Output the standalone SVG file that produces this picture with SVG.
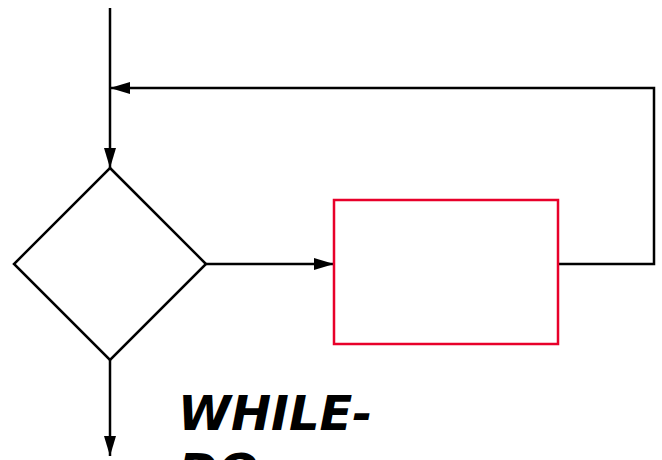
<svg xmlns="http://www.w3.org/2000/svg" width="662" height="460" viewBox="0 0 662 460">
  <style>
    .ln { fill: none; stroke: #000; stroke-width: 2.5; }
    .shape { fill: none; stroke: #000; stroke-width: 2.5; }
    .proc { fill: none; stroke: #e8002a; stroke-width: 2.5; }
    .title { font-family: "DejaVu Sans", sans-serif; font-weight: bold; font-style: italic; font-size: 48px; fill: #000; }
  </style>
  <defs>
    <marker id="arrow" viewBox="0 0 20 12" refX="20" refY="6" markerWidth="20" markerHeight="12" markerUnits="userSpaceOnUse" orient="auto">
      <path d="M0,0 L20,6 L0,12 Z" fill="#000"/>
    </marker>
  </defs>
  <rect width="662" height="460" fill="#fff"/>
  <g id="connectors">
    <path class="ln" d="M110,8 L110,168" marker-end="url(#arrow)"/>
    <path class="ln" d="M206,264 L334,264" marker-end="url(#arrow)"/>
    <path class="ln" d="M558,264 L654,264 L654,88 L110,88" marker-end="url(#arrow)"/>
    <path class="ln" d="M110,360 L110,456" marker-end="url(#arrow)"/>
  </g>
  <g id="decision">
    <polygon class="shape" points="110,168 206,264 110,360 14,264"/>
  </g>
  <g id="process">
    <rect class="proc" x="334" y="200" width="224" height="144"/>
  </g>
  <g id="label">
    <text class="title" x="178" y="430">WHILE-</text>
    <text class="title" x="178" y="488">DO</text>
  </g>
</svg>
